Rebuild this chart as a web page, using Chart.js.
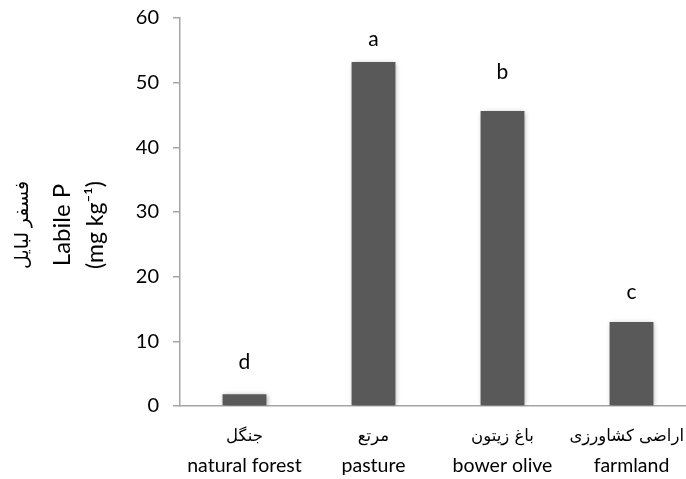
<!DOCTYPE html>
<html lang="en">
<head>
    <meta charset="UTF-8">
    <title>Labile P by land use</title>
    <script src="https://cdn.jsdelivr.net/npm/chart.js"></script>
    <style>
        html, body { margin: 0; padding: 0; background: #fff; overflow: hidden; }
    </style>
</head>
<body>
    <canvas id="labileChart" width="700" height="479"></canvas>
    <script>
        // data
        const persianNames = ['جنگل', 'مرتع', 'باغ زیتون', 'اراضی کشاورزی'];
        const englishNames = ['natural forest', 'pasture', 'bower olive', 'farmland'];
        const labileP = [1.8, 53.2, 45.6, 13.0];
        const groupLetters = ['d', 'a', 'b', 'c'];
        const letterLevels = [6.7, 56.7, 51.6, 17.6]; // where the letters sit, in mg/kg
        const yTicks = [0, 10, 20, 30, 40, 50, 60];
        const yTitle = ['فسفر لبایل', 'Labile P', '(mg kg⁻¹)'];

        const fontFamily = "Lato, 'Open Sans', 'DejaVu Sans', sans-serif";
        const axisGrey = '#a6a6a6';
        const visibleRight = 684; // page is 686 wide, keep labels inside it

        // soft shadow behind the bars
        const shadowPlugin = {
            id: 'shadowPlugin',
            beforeDatasetsDraw: (chart) => {
                const ctx = chart.ctx;
                ctx.save();
                ctx.shadowColor = 'rgba(0,0,0,0.35)';
                ctx.shadowBlur = 5;
                ctx.shadowOffsetX = 1;
                ctx.shadowOffsetY = 1;
            },
            afterDatasetsDraw: (chart) => {
                chart.ctx.restore();
            }
        };

        // letters, two-line category names and the rotated y title
        const annotatePlugin = {
            id: 'annotatePlugin',
            afterDraw: (chart) => {
                const ctx = chart.ctx;
                const x = chart.scales.x;
                const y = chart.scales.y;
                const base = chart.chartArea.bottom;
                ctx.save();
                ctx.fillStyle = '#000';
                ctx.textAlign = 'center';
                ctx.textBaseline = 'middle';

                ctx.font = '21px ' + fontFamily;
                groupLetters.forEach((letter, i) => {
                    ctx.fillText(letter, x.getPixelForValue(i), y.getPixelForValue(letterLevels[i]));
                });

                persianNames.forEach((name, i) => {
                    const cx = x.getPixelForValue(i);
                    ctx.font = "16.5px 'DejaVu Sans', sans-serif";
                    const w = ctx.measureText(name).width;
                    ctx.fillText(name, Math.min(cx, visibleRight - w / 2), base + 31);
                    ctx.font = '19.5px ' + fontFamily;
                    ctx.fillText(englishNames[i], cx, base + 60);
                });

                // y title, three lines, rotated
                ctx.translate(0, 225);
                ctx.rotate(-Math.PI / 2);
                const lineX = [22, 62, 96];
                const lineSize = [19, 24, 23];
                yTitle.forEach((line, i) => {
                    ctx.font = lineSize[i] + 'px ' + fontFamily;
                    ctx.fillText(line, 0, lineX[i]);
                });
                ctx.restore();
            }
        };

        const ctx = document.getElementById('labileChart').getContext('2d');
        new Chart(ctx, {
            type: 'bar',
            data: {
                labels: englishNames,
                datasets: [{
                    data: labileP,
                    backgroundColor: '#595959',
                    borderWidth: 0,
                    barPercentage: 0.34,
                    categoryPercentage: 1.0
                }]
            },
            options: {
                responsive: false,
                animation: false,
                layout: { padding: { top: 18, right: 4, left: 0, bottom: 0 } },
                plugins: {
                    legend: { display: false },
                    tooltip: { enabled: false }
                },
                scales: {
                    x: {
                        grid: { display: false },
                        border: { display: true, color: axisGrey, width: 1.5 },
                        ticks: { display: false },
                        afterFit: (scale) => {
                            scale.height = 73;
                            scale.paddingLeft = 0;
                            scale.paddingRight = 0;
                        }
                    },
                    y: {
                        min: 0,
                        max: 60,
                        afterBuildTicks: (scale) => {
                            scale.ticks = yTicks.map(v => ({ value: v }));
                        },
                        grid: {
                            drawOnChartArea: false,
                            drawTicks: true,
                            tickLength: 7,
                            color: axisGrey,
                            lineWidth: 1.5
                        },
                        border: { display: true, color: axisGrey, width: 1.5 },
                        ticks: {
                            color: '#000',
                            padding: 14,
                            font: { family: fontFamily, size: 20 }
                        },
                        afterFit: (scale) => {
                            scale.width = 180;
                            scale.paddingTop = 0;
                            scale.paddingBottom = 0;
                        }
                    }
                }
            },
            plugins: [shadowPlugin, annotatePlugin]
        });
    </script>
</body>
</html>
